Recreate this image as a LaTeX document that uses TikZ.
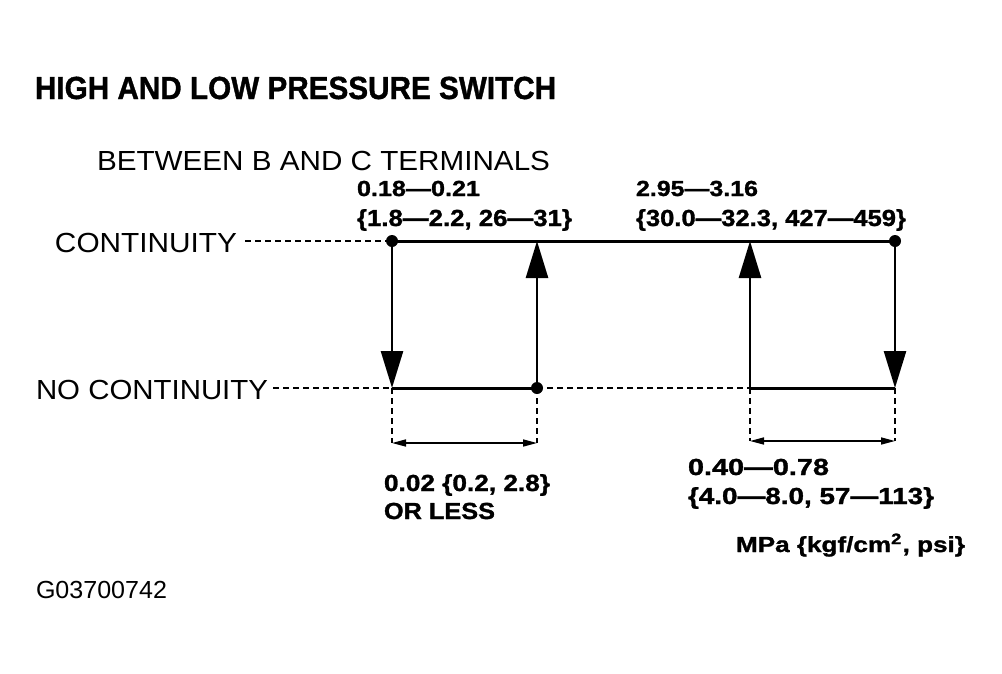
\documentclass[tikz,border=0pt]{standalone}
\usepackage{fontspec}
\setmainfont{Liberation Sans}
\newfontfamily\heavy[FakeBold=1.2]{Liberation Sans Bold}
\usepackage{graphicx}
\usetikzlibrary{arrows.meta}
\newcommand\fitbox[3]{\resizebox{#1}{#2}{\vphantom{H}\smash{#3}}}
\begin{document}
\begin{tikzpicture}[x=1pt,y=-1pt,
  lbl/.style={anchor=base west,inner sep=0pt,outer sep=0pt},
  level/.style={line width=3pt},
  trans/.style={line width=2.6pt,-{Triangle[length=37pt,width=22pt]}},
  guide/.style={line width=1.5pt,dash pattern=on 6pt off 4pt},
  dimline/.style={line width=1.6pt,{Triangle[length=14pt,width=7pt]}-{Triangle[length=14pt,width=7pt]}},
  dot/.style={circle,fill=black,inner sep=0pt,minimum size=12pt}]
\useasboundingbox (0,0) rectangle (1002,673);

% texts
\node[lbl] (title) at (35,99) {\fitbox{521pt}{22pt}{\heavy HIGH AND LOW PRESSURE SWITCH}};
\node[lbl] (between) at (97,170) {\fitbox{453pt}{19pt}{BETWEEN B AND C TERMINALS}};
\node[lbl] (lowA) at (357,196) {\fitbox{123pt}{15pt}{\heavy 0.18—0.21}};
\node[lbl] (lowB) at (357,226) {\fitbox{215pt}{16pt}{\heavy \{1.8—2.2, 26—31\}}};
\node[lbl] (highA) at (636,196) {\fitbox{122pt}{15pt}{\heavy 2.95—3.16}};
\node[lbl] (highB) at (636,226) {\fitbox{270pt}{16pt}{\heavy \{30.0—32.3, 427—459\}}};
\node[lbl] (cont) at (55,252) {\fitbox{182pt}{19pt}{CONTINUITY}};
\node[lbl] (nocont) at (36,399) {\fitbox{232pt}{19pt}{NO CONTINUITY}};
\node[lbl] (hystA) at (384,491) {\fitbox{166pt}{16pt}{\heavy 0.02 \{0.2, 2.8\}}};
\node[lbl] (hystB) at (384,519) {\fitbox{111pt}{16pt}{\heavy OR LESS}};
\node[lbl] (diffA) at (688,475) {\fitbox{141pt}{16pt}{\heavy 0.40—0.78}};
\node[lbl] (diffB) at (688,504) {\fitbox{246pt}{16pt}{\heavy \{4.0—8.0, 57—113\}}};
\node[lbl] (unit) at (736,552) {\fitbox{229pt}{15pt}{\heavy MPa \{kgf/cm\textsuperscript{2}, psi\}}};
\node[lbl] (code) at (36,598) {\fitbox{131pt}{17pt}{G03700742}};

% key points
\coordinate (ce) at (245,241);
\coordinate (ne) at (273,388);
\node[dot] (t1) at (392,241) {};
\coordinate (b1) at (392,388);
\coordinate (t2) at (537,241);
\node[dot] (b2) at (537,388) {};
\coordinate (t3) at (750,241);
\coordinate (b3) at (750,388);
\node[dot] (t4) at (895,241) {};
\coordinate (b4) at (895,388);
\coordinate (d1) at (392,443);
\coordinate (d2) at (537,443);
\coordinate (d3) at (750,441);
\coordinate (d4) at (895,441);

% guide lines
\draw[guide] (ce) -- (t1.center);
\draw[guide] (ne) -- (b1);
\draw[guide] (b2.center) -- (b3);
\draw[guide] (b1) -- (d1);
\draw[guide] (b2.center) -- (d2);
\draw[guide] (b3) -- (d3);
\draw[guide] (b4) -- (d4);

% levels
\draw[level] (t1.center) -- (t4.center);
\draw[level] (b1) -- (b2.center);
\draw[level] (b3) -- (b4);

% transitions
\draw[trans] (t1.center) -- (b1);
\draw[trans] (b2.center) -- (t2);
\draw[trans] (b3) -- (t3);
\draw[trans] (t4.center) -- (b4);

% dimensions
\draw[dimline] (d1) -- (d2);
\draw[dimline] (d3) -- (d4);
\end{tikzpicture}
\end{document}
